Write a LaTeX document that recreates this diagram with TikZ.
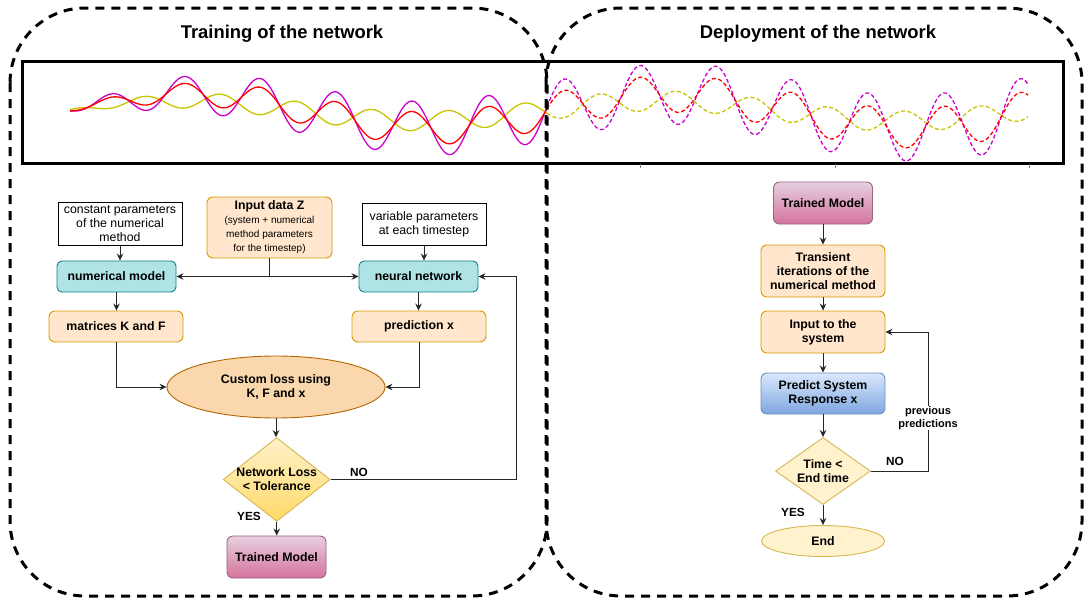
\documentclass[tikz,border=0pt]{standalone}
\usepackage{fontspec}
\setmainfont{Liberation Sans}
\usetikzlibrary{shapes.geometric,arrows.meta}
\definecolor{tealfill}{HTML}{B0E3E6}
\definecolor{tealline}{HTML}{0E8088}
\definecolor{orangefill}{HTML}{FFE6CC}
\definecolor{orangeline}{HTML}{D79B00}
\definecolor{lossfill}{HTML}{FAD7AC}
\definecolor{lossline}{HTML}{B46504}
\definecolor{yellowfill}{HTML}{FFF2CC}
\definecolor{yellowdeep}{HTML}{FFD966}
\definecolor{yellowline}{HTML}{D6B656}
\definecolor{pinktop}{HTML}{E6D0DE}
\definecolor{pinkbot}{HTML}{D5739D}
\definecolor{pinkline}{HTML}{996185}
\definecolor{bluetop}{HTML}{DAE8FC}
\definecolor{bluebot}{HTML}{7EA6E0}
\definecolor{blueline}{HTML}{6C8EBF}
\definecolor{wavey}{HTML}{C8C400}
\definecolor{wavem}{HTML}{CC00CC}
\definecolor{waver}{HTML}{FF0000}
\newcommand{\zsmall}{\mdseries\fontsize{10}{14.5}\selectfont}
\tikzset{every picture/.append style={x=1pt, y=-1pt}}
\tikzset{
    every node/.style={align=center, inner sep=0pt,
    	font=\fontsize{12.3}{14}\selectfont\bfseries},
    title/.style={font=\fontsize{18.4}{22}\selectfont\bfseries},
    lbl/.style={font=\fontsize{11.8}{13}\selectfont\bfseries},
    plainbox/.style={draw=black, fill=white, line width=0.9pt,
    	font=\fontsize{12.3}{14}\selectfont},
    tealbox/.style={draw=tealline, fill=tealfill, line width=0.9pt, rounded corners=5pt},
    orangebox/.style={draw=orangeline, fill=orangefill, line width=0.9pt, rounded corners=6pt},
    pinkbox/.style={draw=pinkline, top color=pinktop, bottom color=pinkbot,
    	line width=0.9pt, rounded corners=6pt},
    bluebox/.style={draw=blueline, top color=bluetop, bottom color=bluebot,
    	line width=0.9pt, rounded corners=6pt},
    lossnode/.style={ellipse, draw=lossline, fill=lossfill, line width=0.9pt},
    decision/.style={diamond, draw=yellowline, fill=yellowfill, line width=0.9pt, inner sep=-5pt},
    flow/.style={draw=black!85, line width=1pt, -{Stealth[length=7pt, width=6.5pt]}},
    region/.style={line width=3pt, dash pattern=on 9pt off 7pt, rounded corners=75pt},
    wave/.style={line width=1.3pt, smooth},
    dwave/.style={line width=1.3pt, smooth, dash pattern=on 4pt off 2.5pt}
}

\begin{document}
\begin{tikzpicture}[declare function={
    env(\t)=1-exp(-min((\t-70)/90,9));
    midr(\t)=111-17*cos((\t-190)/480*360);
    midy(\t)=111-10*cos((\t-180)/480*360);
    redw(\t)=midr(\t)-(14+0.007*(\t-70))*env(\t)*cos((\t-184)/76*360);
    magw(\t)=midr(\t)-(23+0.012*(\t-70))*env(\t)*cos((\t-184)/76*360);
    yelw(\t)=midy(\t)-10*env(\t)*cos((\t-144)/76*360);}]
  \useasboundingbox (0,0) rectangle (1084,603);

  \draw[line width=3pt] (22,61) rectangle (1063,163);
  \foreach \tx in {640,835,1029}
    \draw[gray, line width=0.6pt] (\tx,164) -- (\tx,167.5);

  \draw[wave, wavey] plot[domain=70:547, samples=240] (\x, {yelw(\x)});
  \draw[wave, wavem] plot[domain=70:547, samples=240] (\x, {magw(\x)});
  \draw[wave, waver] plot[domain=70:547, samples=240] (\x, {redw(\x)});
  \draw[dwave, wavey] plot[domain=547:1028, samples=240] (\x, {yelw(\x)});
  \draw[dwave, wavem] plot[domain=547:1028, samples=240] (\x, {magw(\x)});
  \draw[dwave, waver] plot[domain=547:1028, samples=240] (\x, {redw(\x)});

  \draw[region] (10,8) rectangle (547,596);
  \draw[region] (546,8) rectangle (1082,596);

  \node (train_t) [title] at (282,34) {Training of the network};
  \node (deploy_t) [title] at (818,34) {Deployment of the network};

  \node (const_b) [plainbox, minimum width=124, minimum height=43] at (120,223.5)
    {constant parameters\\of the numerical\\method};
  \node (input_z) [orangebox, minimum width=125, minimum height=61] at (269.5,227.5)
    {Input data Z\\\zsmall (system + numerical\\\zsmall method parameters\\\zsmall for the timestep)};
  \node (var_b) [plainbox, minimum width=124, minimum height=42] at (424,224)
    {variable parameters\\at each timestep};
  \node (num_m) [tealbox, minimum width=119, minimum height=31] at (116.5,276.5) {numerical model};
  \node (net_n) [tealbox, minimum width=119, minimum height=31] at (418.5,276.5) {neural network};
  \node (mat_kf) [orangebox, minimum width=134, minimum height=31] at (116,326.5) {matrices K and F};
  \node (pred_x) [orangebox, minimum width=134, minimum height=31] at (419,326.5) {prediction x};
  \node (loss_e) [lossnode, minimum width=218, minimum height=62] at (276,387)
    {Custom loss using\\K, F and x};
  \node (tol_d) [decision, top color=yellowfill, bottom color=yellowdeep,
    minimum width=107, minimum height=76] at (276.7,479.5) {Network Loss\\< Tolerance};
  \node (model_l) [pinkbox, minimum width=99, minimum height=42] at (276.5,557) {Trained Model};
  \node (no_l) [lbl] at (359,472) {NO};
  \node (yes_l) [lbl] at (249,516) {YES};

  \node (model_r) [pinkbox, minimum width=99, minimum height=42] at (823,203) {Trained Model};
  \node (trans_b) [orangebox, minimum width=124, minimum height=52] at (823,271)
    {Transient\\iterations of the\\numerical method};
  \node (in_sys) [orangebox, minimum width=124, minimum height=42] at (823,332)
    {Input to the\\system};
  \node (resp_x) [bluebox, minimum width=124, minimum height=41] at (823,393.5)
    {Predict System\\Response x};
  \node (time_d) [decision, minimum width=95, minimum height=67] at (823,471)
    {Time <\\End time};
  \node (end_e) [ellipse, draw=yellowline, fill=yellowfill, line width=0.9pt,
    minimum width=123, minimum height=31] at (823,541) {End};
  \node (yes_r) [lbl] at (793,512) {YES};
  \node (no_r) [lbl] at (895,461) {NO};

  \draw[flow] (const_b) -- (const_b |- num_m.north);
  \draw[flow] (var_b) -- (var_b |- net_n.north);
  \draw[line width=1pt, black!85] (input_z.south) -- (input_z.south |- num_m.east);
  \draw[flow] (input_z.south |- num_m.east) -- (num_m.east);
  \draw[flow] (input_z.south |- net_n.west) -- (net_n.west);
  \draw[flow] (num_m) -- (num_m |- mat_kf.north);
  \draw[flow] (net_n) -- (net_n |- pred_x.north);
  \draw[flow] (mat_kf.south) |- (loss_e.west);
  \draw[flow] (pred_x.south) |- (loss_e.east);
  \draw[flow] (loss_e) -- (loss_e |- tol_d.north);
  \draw[flow] (tol_d) -- (tol_d |- model_l.north);
  \draw[flow] (tol_d.east) -- ++(186,0) |- (net_n.east);

  \draw[flow] (model_r) -- (trans_b);
  \draw[flow] (trans_b) -- (in_sys);
  \draw[flow] (in_sys) -- (resp_x);
  \draw[flow] (resp_x) -- (time_d);
  \draw[flow] (time_d) -- (end_e);
  \draw[flow] (time_d.east) -- ++(58,0) |- (in_sys.east);
  \node (prev_l) [fill=white, inner sep=1pt, font=\fontsize{11}{12.3}\selectfont\bfseries]
    at (928,418) {previous\\predictions};
\end{tikzpicture}
\end{document}
